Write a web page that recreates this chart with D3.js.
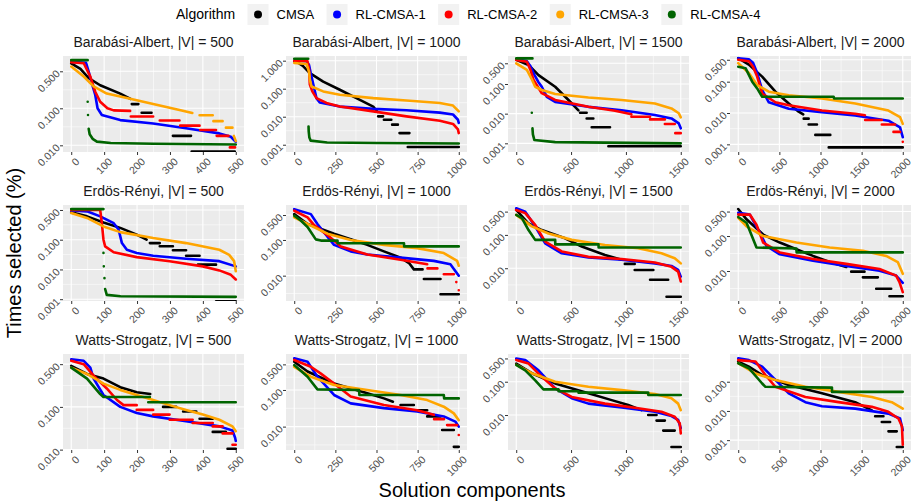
<!DOCTYPE html>
<html>
<head>
<meta charset="utf-8">
<script src="https://cdnjs.cloudflare.com/ajax/libs/d3/7.8.5/d3.min.js"></script>
<style>
  body { margin: 0; background: #fff; }
  svg { display: block; font-family: "Liberation Sans", Arial, sans-serif; }
</style>
</head>
<body>
<div id="chart"></div>
<script>
// legend / facet definitions
const algorithms = ["CMSA", "RL-CMSA-1", "RL-CMSA-2", "RL-CMSA-3", "RL-CMSA-4"];
const algoColors = ["#000000", "#0000FF", "#FF0000", "#FFA500", "#006400"];
const graphTypes = ["Barabási-Albert", "Erdös-Rényi", "Watts-Strogatz"];
const graphSizes = [500, 1000, 1500, 2000];

// x ticks per column (graph size)
const xTickValues = [[0, 100, 200, 300, 400, 500], [0, 250, 500, 750, 1000], [0, 500, 1000, 1500], [0, 500, 1000, 1500, 2000]];

// y ticks per panel, row by row (labels copied as printed)
const yTickValues = [
  [1, 0.1, 0.01], [1, 0.1, 0.01, 0.001], [0.5, 0.1, 0.01, 0.001], [0.5, 0.1, 0.01, 0.001],
  [1, 0.1, 0.01, 0.001], [0.5, 0.1, 0.01], [0.5, 0.1, 0.01], [0.5, 0.1, 0.01],
  [1, 0.1, 0.01], [0.5, 0.1, 0.01], [0.5, 0.1, 0.01], [0.1, 0.01, 0.001]
];
const yTickLabels = [
  ["0.500", "0.100", "0.010"], ["1.000", "0.100", "0.010", "0.001"], ["0.500", "0.100", "0.010", "0.001"], ["0.500", "0.100", "0.010", "0.001"],
  ["0.500", "0.100", "0.010", "0.001"], ["0.500", "0.100", "0.010"], ["0.500", "0.100", "0.010"], ["0.500", "0.100", "0.010"],
  ["0.500", "0.100", "0.010"], ["0.500", "0.100", "0.010"], ["0.500", "0.100", "0.010"], ["0.100", "0.010", "0.001"]
];
// visible y range of every panel (bottom, top)
const yLimits = [
  [0.0066, 2.59], [0.00055, 1.47], [0.00051, 0.88], [0.00057, 0.66],
  [0.00087, 1.47], [0.00195, 0.955], [0.00104, 0.79], [0.00139, 0.77],
  [0.0098, 1.73], [0.0023, 0.96], [0.00089, 0.68], [0.00046, 0.89]
];

// series per panel, in algorithm order: [component, times selected], null = gap
const ba500 = [
  [[0,1.64],[28,1.16],[53,0.65],[88,0.42],[149,0.25],[180,0.18],null,[184,0.13],[204,0.13],null,[214,0.076],[244,0.076],null,[309,0.018],[364,0.018],null,[366,0.0068],[497,0.0068]],
  [[0,1.8],[45,1.7],[53,0.98],[65,0.4],[73,0.23],[80,0.1],[93,0.066],[149,0.048],[249,0.039],[349,0.029],[450,0.021],[485,0.017],[500,0.0125]],
  [[0,1.75],[38,1.65],[58,0.72],[73,0.28],[88,0.15],[110,0.1],[129,0.088],[179,0.085],null,[181,0.06],[249,0.06],null,[269,0.047],[329,0.047],null,[331,0.034],[390,0.034],null,[392,0.026],[440,0.026],null,[442,0.018],[478,0.018],null,[482,0.0088],[498,0.0088]],
  [[0,1.34],[38,0.72],[68,0.39],[108,0.25],[169,0.19],[249,0.13],[329,0.09],[368,0.075],null,[390,0.065],[430,0.065],null,[432,0.045],[460,0.045],null,[470,0.03],[490,0.03],null,[494,0.018],[500,0.013]],
  [[0,2.0],[50,2.0],null,[50,0.15],null,[51,0.066],null,[53,0.028],[56,0.02],[65,0.015],[78,0.0126],[120,0.0115],[250,0.011],[500,0.0105]]
];
const ba1000 = [
  [[0,0.95],[30,0.8],[55,0.63],[95,0.36],[176,0.18],[277,0.092],[378,0.046],[480,0.023],[505,0.015],null,[510,0.0103],[540,0.0103],null,[545,0.0078],[590,0.0078],null,[595,0.0052],[630,0.0052],null,[640,0.0026],[700,0.0026],null,[690,0.00083],[1000,0.00083]],
  [[0,1.0],[75,0.95],[90,0.7],[100,0.36],[115,0.15],[135,0.046],[155,0.032],[277,0.023],[480,0.019],[682,0.017],[885,0.014],[965,0.012],[995,0.0078],[1000,0.006]],
  [[0,1.0],[80,0.98],[90,0.5],[95,0.14],[110,0.08],[135,0.046],[196,0.031],[277,0.023],[480,0.0155],[682,0.0103],[885,0.0072],[965,0.0055],[995,0.0035],[1000,0.0026]],
  [[0,0.83],[75,0.76],[90,0.4],[95,0.21],[105,0.12],[176,0.08],[277,0.061],[480,0.046],[682,0.038],[885,0.031],[965,0.025],[1000,0.0155]],
  [[0,1.17],[85,1.17],null,[87,0.0045],[88,0.003],[92,0.0018],[100,0.0014],[200,0.0012],[500,0.00115],[1000,0.0011]]
];
const ba1500 = [
  [[0,0.65],[112,0.44],[203,0.2],[355,0.081],[476,0.029],[567,0.013],null,[582,0.0108],[642,0.0108],null,[642,0.0069],[703,0.0069],null,[688,0.0035],[855,0.0035],null,[840,0.0008],[1500,0.0008]],
  [[0,0.68],[97,0.59],[130,0.4],[158,0.23],[200,0.12],[233,0.081],[279,0.037],[355,0.025],[658,0.017],[961,0.013],[1264,0.009],[1415,0.0069],[1482,0.0047],[1500,0.0032]],
  [[0,0.65],[97,0.56],[130,0.3],[158,0.136],[233,0.049],[355,0.029],[658,0.017],[900,0.0125],[1050,0.0095],null,[1050,0.0079],[1220,0.0079],null,[1220,0.0064],[1355,0.0064],null,[1355,0.0045],[1445,0.0045],null,[1450,0.0022],[1500,0.0022]],
  [[0,0.5],[97,0.3],[140,0.15],[173,0.081],[233,0.063],[355,0.046],[658,0.035],[961,0.029],[1264,0.022],[1415,0.015],[1482,0.0103],[1500,0.0075]],
  [[0,0.73],[148,0.73],null,[142,0.0108],null,[148,0.0032],[152,0.002],[165,0.0013],[355,0.0011],[1500,0.001]]
];
const ba2000 = [
  [[0,0.56],[129,0.35],[291,0.145],[452,0.048],[614,0.02],[735,0.011],[790,0.009],null,[796,0.0066],[856,0.0066],null,[856,0.0043],[957,0.0043],null,[937,0.002],[1119,0.002],null,[1100,0.0008],[2000,0.0008]],
  [[0,0.56],[129,0.52],[180,0.4],[230,0.19],[291,0.054],[372,0.022],[614,0.0137],[1018,0.0107],[1422,0.0083],[1826,0.0057],[1967,0.0035],[2000,0.0017]],
  [[0,0.5],[129,0.45],[180,0.3],[230,0.145],[291,0.042],[452,0.022],[614,0.0177],[1018,0.012],[1422,0.0095],[1540,0.0085],null,[1543,0.006],[1745,0.006],null,[1745,0.0043],[1907,0.0043],null,[1887,0.0025],[1967,0.0025],null,[2000,0.0012]],
  [[0,0.39],[129,0.19],[230,0.078],[372,0.048],[614,0.037],[1018,0.029],[1422,0.02],[1826,0.012],[1967,0.0074],[2000,0.0045]],
  [[0,0.3],[89,0.27],[170,0.1],[230,0.061],[291,0.033],[1160,0.033],[1165,0.029],[2000,0.029]]
];
const er500 = [
  [[0,0.83],[48,0.61],[98,0.38],[149,0.25],[199,0.148],[229,0.1],null,[239,0.077],[269,0.077],null,[269,0.06],[309,0.06],null,[309,0.044],[349,0.044],null,[349,0.029],[390,0.029],null,[385,0.0145],[440,0.0145],null,[440,0.00085],[500,0.00085]],
  [[0,0.97],[48,0.9],[88,0.61],[129,0.36],[144,0.22],[154,0.077],[169,0.046],[199,0.036],[249,0.029],[349,0.023],[450,0.019],[500,0.0127]],
  [[0,1.0],[88,1.0],[93,0.36],[98,0.1],[103,0.06],[129,0.038],[199,0.026],[299,0.019],[400,0.0127],[450,0.0093],[485,0.0066],[500,0.0046]],
  [[0,0.79],[48,0.54],[98,0.28],[149,0.18],[249,0.114],[349,0.077],[450,0.046],[480,0.031],[495,0.019],[500,0.0087]],
  [[0,1.07],[98,1.07],null,[98,0.036],null,[99,0.0127],null,[101,0.0051],null,[103,0.0022],[108,0.0014],[150,0.00125],[500,0.0012]]
];
const er1000 = [
  [[0,0.53],[81,0.28],[242,0.15],[444,0.073],[545,0.048],[646,0.032],[700,0.022],[727,0.015],[780,0.015],null,[788,0.0081],[889,0.0081],null,[889,0.003],[1000,0.003]],
  [[0,0.73],[101,0.53],[141,0.28],[202,0.123],[242,0.073],[343,0.048],[444,0.039],[646,0.032],[848,0.026],[949,0.021],[1000,0.01]],
  [[0,0.66],[81,0.43],[121,0.26],[202,0.137],[283,0.066],[444,0.039],[646,0.028],[808,0.021],null,[810,0.016],[870,0.016],null,[909,0.011],[970,0.011],null,[985,0.0066],null,[1000,0.0039]],
  [[0,0.43],[81,0.28],[202,0.15],[343,0.1],[545,0.073],[747,0.059],[909,0.043],[990,0.026],[1000,0.019]],
  [[0,0.48],[40,0.35],[81,0.23],[131,0.104],[162,0.096],[263,0.096],[264,0.081],[667,0.081],[668,0.066],[1000,0.066]]
];
const er1500 = [
  [[0,0.56],[112,0.22],[233,0.14],[445,0.079],[597,0.045],[809,0.025],[960,0.018],null,[990,0.0135],[1080,0.0135],null,[1080,0.0089],[1250,0.0089],null,[1220,0.0045],[1385,0.0045],null,[1370,0.0014],[1500,0.0014]],
  [[0,0.63],[82,0.5],[173,0.18],[264,0.056],[415,0.028],[658,0.021],[960,0.018],[1264,0.014],[1415,0.0117],[1476,0.0089],[1500,0.0056]],
  [[0,0.56],[82,0.45],[173,0.2],[264,0.063],[415,0.032],[658,0.022],[960,0.019],[1264,0.0148],[1415,0.011],[1476,0.0079],[1500,0.004]],
  [[0,0.4],[142,0.18],[294,0.11],[506,0.071],[809,0.05],[1112,0.04],[1324,0.028],[1445,0.02],[1500,0.014]],
  [[0,0.4],[52,0.32],[112,0.14],[173,0.071],[355,0.071],[356,0.052],[750,0.052],[751,0.042],[1500,0.042]]
];
const er2000 = [
  [[0,0.59],[101,0.3],[303,0.11],[505,0.065],[909,0.027],[1111,0.018],[1313,0.013],null,[1373,0.0096],[1535,0.0096],null,[1515,0.0066],[1697,0.0066],null,[1677,0.0031],[1859,0.0031],null,[1838,0.0019],[2000,0.0019]],
  [[0,0.46],[141,0.41],[263,0.125],[343,0.052],[505,0.03],[909,0.0196],[1313,0.014],[1717,0.0102],[1919,0.0074],[2000,0.0046]],
  [[0,0.41],[141,0.41],[222,0.21],[303,0.065],[505,0.034],[909,0.022],[1313,0.016],[1717,0.0114],[1919,0.0074],[1960,0.0048],[2000,0.0025]],
  [[0,0.33],[101,0.19],[303,0.1],[707,0.065],[1111,0.047],[1515,0.038],[1798,0.027],[1939,0.018],[2000,0.0083]],
  [[0,0.35],[101,0.24],[222,0.047],[707,0.044],[710,0.034],[2000,0.034]]
];
const ws500 = [
  [[0,0.91],[48,0.59],[98,0.46],[149,0.29],[199,0.22],[240,0.2],null,[279,0.1],[319,0.1],null,[340,0.078],[380,0.078],null,[390,0.053],[430,0.053],null,[430,0.026],[470,0.026],null,[475,0.0105],[500,0.0105]],
  [[0,1.3],[38,1.2],[58,0.83],[68,0.46],[98,0.19],[149,0.1],[199,0.072],[249,0.06],[349,0.046],[450,0.035],[490,0.028],[498,0.019],[500,0.016]],
  [[0,1.2],[38,1.0],[68,0.54],[108,0.27],[139,0.145],[159,0.11],[199,0.11],null,[199,0.085],[249,0.085],null,[249,0.066],[299,0.066],null,[299,0.05],[369,0.05],null,[369,0.042],[430,0.042],null,[430,0.035],[460,0.035],null,[460,0.024],[490,0.024],null,[490,0.013],[500,0.013]],
  [[0,0.83],[48,0.59],[98,0.35],[149,0.25],[199,0.19],[249,0.145],[299,0.11],[349,0.085],[400,0.066],[450,0.05],[490,0.035],[500,0.027]],
  [[0,0.83],[48,0.46],[88,0.2],[98,0.17],[239,0.17],null,[234,0.128],[500,0.128]]
];
const ws1000 = [
  [[0,0.59],[81,0.32],[242,0.15],[444,0.081],[545,0.059],[600,0.048],null,[646,0.039],[727,0.039],null,[727,0.028],[808,0.028],null,[808,0.019],[889,0.019],null,[899,0.0081],[970,0.0081],null,[970,0.0028],[1000,0.0028]],
  [[0,0.73],[81,0.59],[141,0.23],[242,0.073],[343,0.043],[545,0.032],[747,0.026],[909,0.019],[979,0.0137],[1000,0.01]],
  [[0,0.66],[101,0.43],[162,0.28],[242,0.15],[343,0.066],[545,0.039],[747,0.028],[848,0.021],null,[850,0.016],[910,0.016],null,[929,0.011],[990,0.011],null,[1000,0.0059]],
  [[0,0.43],[101,0.23],[242,0.137],[444,0.1],[646,0.073],[808,0.053],[909,0.035],[970,0.023],[1000,0.015]],
  [[0,0.48],[81,0.23],[141,0.104],[394,0.1],[396,0.073],[909,0.073],[911,0.059],[1000,0.059]]
];
const ws1500 = [
  [[0,0.35],[142,0.18],[355,0.089],[658,0.045],[870,0.028],[1021,0.02],[1142,0.014],null,[1203,0.01],[1279,0.01],null,[1279,0.0068],[1355,0.0068],null,[1340,0.0034],[1445,0.0034],null,[1415,0.0011],[1500,0.0011]],
  [[0,0.5],[82,0.45],[203,0.22],[355,0.063],[506,0.032],[658,0.022],[961,0.017],[1264,0.0126],[1415,0.0093],[1476,0.0071],[1500,0.004]],
  [[0,0.45],[112,0.35],[233,0.14],[355,0.063],[506,0.035],[809,0.022],[1112,0.016],[1324,0.0126],[1445,0.0089],[1491,0.0056],[1500,0.0028]],
  [[0,0.32],[142,0.18],[355,0.1],[658,0.071],[961,0.056],[1264,0.043],[1415,0.032],[1476,0.022],[1500,0.014]],
  [[0,0.32],[82,0.22],[173,0.11],[248,0.059],[385,0.059],[386,0.052],[567,0.052],[568,0.047],[1203,0.047],[1204,0.04],[1500,0.04]]
];
const ws2000 = [
  [[0,0.49],[129,0.33],[291,0.17],[614,0.077],[1018,0.04],[1422,0.02],[1624,0.0105],null,[1664,0.0066],[1765,0.0066],null,[1745,0.0042],[1846,0.0042],null,[1826,0.002],[1927,0.002],null,[1927,0.00058],[2000,0.00058]],
  [[0,0.63],[129,0.55],[291,0.33],[452,0.115],[614,0.04],[816,0.02],[1018,0.0145],[1422,0.012],[1826,0.0081],[1967,0.0055],[2000,0.0022]],
  [[0,0.55],[210,0.49],[331,0.17],[452,0.067],[816,0.03],[1220,0.02],[1624,0.0138],[1826,0.0093],[1947,0.0055],[1990,0.003],[2000,0.0007]],
  [[0,0.43],[210,0.19],[452,0.115],[816,0.067],[1220,0.045],[1624,0.03],[1866,0.02],[2000,0.012]],
  [[0,0.43],[129,0.29],[291,0.087],[331,0.067],[1139,0.063],[1140,0.045],[2000,0.045]]
];
const panelSeries = [ba500, ba1000, ba1500, ba2000, er500, er1000, er1500, er2000, ws500, ws1000, ws1500, ws2000];

// layout
const W = 914, H = 504;
const panelLeft = [63, 286, 508, 730], panelTop = [56, 205, 354];
const panelW = 181, panelH = 96;

const svg = d3.select("#chart").append("svg").attr("width", W).attr("height", H);
const defs = svg.append("defs");

// minor breaks halfway between majors (log space), one step beyond each end
function minorLog(vals, lim) {
  const lv = vals.map(Math.log10).sort((a, b) => a - b);
  const n = lv.length;
  const ext = [lv[0] - (lv[1] - lv[0]), ...lv, lv[n - 1] + (lv[n - 1] - lv[n - 2])];
  const out = [];
  for (let i = 0; i < ext.length - 1; i++) out.push(Math.pow(10, (ext[i] + ext[i + 1]) / 2));
  return out.filter(v => v > lim[0] && v < lim[1]);
}
function minorLin(vals, dom) {
  const s = vals[1] - vals[0];
  const ext = [vals[0] - s, ...vals, vals[vals.length - 1] + s];
  const out = [];
  for (let i = 0; i < ext.length - 1; i++) out.push((ext[i] + ext[i + 1]) / 2);
  return out.filter(v => v > dom[0] && v < dom[1]);
}

graphTypes.forEach(function (gname, r) {
  graphSizes.forEach(function (n, c) {
    const k = r * 4 + c;
    const L = panelLeft[c], T = panelTop[r];

    const x = d3.scaleLinear().domain([-0.05 * n, 1.05 * n]).range([L, L + panelW]);
    const y = d3.scaleLog().domain(yLimits[k]).range([T + panelH, T]);

    const g = svg.append("g");

    g.append("rect")
      .attr("x", L).attr("y", T)
      .attr("width", panelW).attr("height", panelH)
      .attr("fill", "#EBEBEB");

    // minor grid
    g.selectAll(".ymin").data(minorLog(yTickValues[k], yLimits[k])).enter().append("line")
      .attr("x1", L).attr("x2", L + panelW)
      .attr("y1", d => y(d)).attr("y2", d => y(d))
      .attr("stroke", "#fff").attr("stroke-width", 0.55);
    g.selectAll(".xmin").data(minorLin(xTickValues[c], x.domain())).enter().append("line")
      .attr("y1", T).attr("y2", T + panelH)
      .attr("x1", d => x(d)).attr("x2", d => x(d))
      .attr("stroke", "#fff").attr("stroke-width", 0.55);

    // major grid
    g.selectAll(".ymaj").data(yTickValues[k]).enter().append("line")
      .attr("x1", L).attr("x2", L + panelW)
      .attr("y1", d => y(d)).attr("y2", d => y(d))
      .attr("stroke", "#fff").attr("stroke-width", 1.1);
    g.selectAll(".xmaj").data(xTickValues[c]).enter().append("line")
      .attr("y1", T).attr("y2", T + panelH)
      .attr("x1", d => x(d)).attr("x2", d => x(d))
      .attr("stroke", "#fff").attr("stroke-width", 1.1);

    // clip for the points
    defs.append("clipPath").attr("id", "clip" + k)
      .append("rect").attr("x", L).attr("y", T).attr("width", panelW).attr("height", panelH);

    const line = d3.line()
      .defined(d => d !== null)
      .x(d => x(d[0]))
      .y(d => y(d[1]));

    g.append("g").attr("clip-path", "url(#clip" + k + ")")
      .selectAll("path")
      .data(panelSeries[k])
      .enter().append("path")
      .attr("d", line)
      .attr("fill", "none")
      .attr("stroke", (d, i) => algoColors[i])
      .attr("stroke-width", 2.6)
      .attr("stroke-linecap", "round")
      .attr("stroke-linejoin", "round");

    // strip title
    g.append("text")
      .attr("x", L + panelW / 2).attr("y", T - 9)
      .attr("text-anchor", "middle")
      .attr("font-size", 14)
      .attr("fill", "#1A1A1A")
      .text(gname + ", |V| = " + n);

    // x axis
    const xa = g.append("g")
      .attr("transform", "translate(0," + (T + panelH) + ")")
      .call(d3.axisBottom(x).tickValues(xTickValues[c]).tickSize(3).tickFormat(d3.format("d")));
    xa.attr("font-family", null).attr("font-size", null);
    xa.select(".domain").remove();
    xa.selectAll("line").attr("stroke", "#333333");
    xa.selectAll("text")
      .attr("x", 0).attr("y", 0).attr("dy", "0.71em")
      .attr("transform", "translate(3,5) rotate(-45)")
      .attr("text-anchor", "end")
      .attr("font-size", 10.5)
      .attr("fill", "#4D4D4D");

    // y axis
    const ya = g.append("g")
      .attr("transform", "translate(" + L + ",0)")
      .call(d3.axisLeft(y).tickValues(yTickValues[k]).tickSize(3)
        .tickFormat((d, i) => yTickLabels[k][i]));
    ya.attr("font-family", null).attr("font-size", null);
    ya.select(".domain").remove();
    ya.selectAll("line").attr("stroke", "#333333");
    ya.selectAll("text")
      .attr("x", 0).attr("y", 0).attr("dy", "0.35em")
      .attr("transform", "translate(-5,0) rotate(-45)")
      .attr("text-anchor", "end")
      .attr("font-size", 10.5)
      .attr("fill", "#4D4D4D");
  });
});

// axis titles
svg.append("text")
  .attr("transform", "translate(21,253) rotate(-90)")
  .attr("text-anchor", "middle")
  .attr("font-size", 20)
  .attr("fill", "#000")
  .text("Times selected (%)");

svg.append("text")
  .attr("x", 472).attr("y", 497)
  .attr("text-anchor", "middle")
  .attr("font-size", 20)
  .attr("fill", "#000")
  .text("Solution components");

// legend
const legend = svg.append("g");
legend.append("text")
  .attr("x", 176).attr("y", 14).attr("dy", "0.35em")
  .attr("font-size", 14)
  .text("Algorithm");

let cx = 258;
algorithms.forEach(function (a, i) {
  legend.append("rect")
    .attr("x", cx - 10.5).attr("y", 4).attr("width", 21).attr("height", 21)
    .attr("fill", "#F2F2F2");
  legend.append("circle")
    .attr("cx", cx).attr("cy", 14.5).attr("r", 4)
    .attr("fill", algoColors[i]);
  const t = legend.append("text")
    .attr("x", cx + 18.5).attr("y", 14.5).attr("dy", "0.35em")
    .attr("font-size", 13)
    .text(a);
  cx += 18.5 + t.node().getComputedTextLength() + 23;
});
</script>
</body>
</html>
